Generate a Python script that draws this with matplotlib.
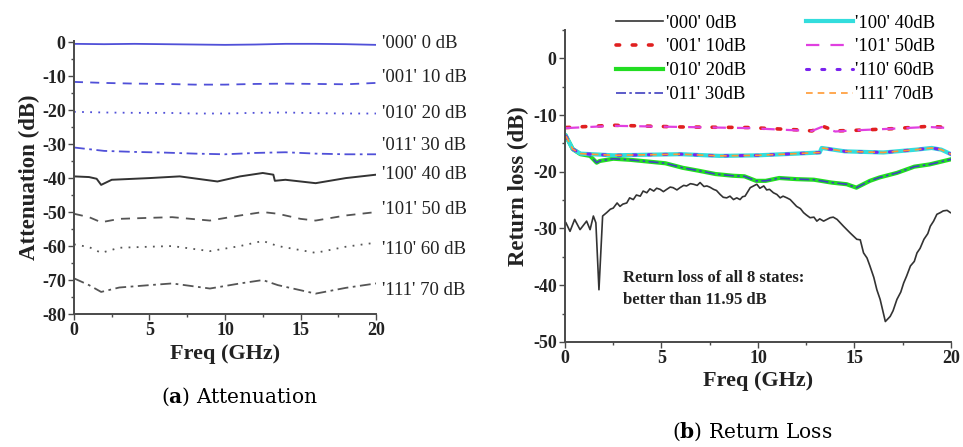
"""Attenuation and return loss of the 3-bit step attenuator (two panels)."""

import matplotlib.pyplot as plt
from matplotlib.ticker import MultipleLocator

plt.rcParams["font.family"] = ["Liberation Serif", "DejaVu Serif"]
plt.rcParams["axes.unicode_minus"] = False
plt.rcParams["mathtext.fontset"] = "custom"
plt.rcParams["mathtext.bf"] = "DejaVu Serif:bold"
plt.rcParams["mathtext.rm"] = "DejaVu Serif"

# ---- (a) attenuation ----
att_freq_flat = [0, 2, 4, 6, 8, 10, 12, 14, 16, 18, 20]
att_000 = [-0.5, -0.6, -0.5, -0.6, -0.7, -0.8, -0.7, -0.5, -0.5, -0.6, -0.8]
att_001 = [-11.7, -12.0, -12.2, -12.3, -12.5, -12.5, -12.3, -12.2, -12.3, -12.4, -12.0]
att_010 = [-20.5, -20.7, -20.8, -20.8, -21.0, -21.0, -20.8, -20.7, -20.9, -21.0, -21.0]
att_011 = [-31.0, -32.0, -32.3, -32.5, -32.8, -33.0, -32.6, -32.4, -32.8, -33.0, -33.0]

att_freq_100 = [0, 1.0, 1.5, 1.8, 2.5, 5, 7, 9.5, 11, 12.5, 13.2, 13.3, 14, 16, 18, 20]
att_100 = [-39.5, -39.7, -40.2, -42.0, -40.5, -40.0, -39.5, -41.0, -39.5, -38.5,
           -39.0, -40.8, -40.5, -41.5, -40.0, -39.0]

att_freq_var = [0, 1.0, 1.8, 3, 5, 6.5, 9, 11, 12.5, 13.5, 15, 16, 18, 20]
att_101 = [-50.5, -51.5, -53.0, -52.0, -51.7, -51.5, -52.5, -51.0, -50.0, -50.5,
           -52.0, -52.5, -51.0, -50.0]
att_110 = [-59.5, -60.3, -62.0, -60.5, -60.2, -60.0, -61.5, -60.0, -58.5, -60.0,
           -61.2, -62.0, -60.2, -59.0]
att_111 = [-69.5, -71.5, -73.5, -72.2, -71.5, -71.0, -72.5, -71.0, -70.0, -71.5,
           -73.0, -74.0, -72.3, -71.0]

att_labels = ["'000' 0 dB", "'001' 10 dB", "'010' 20 dB", "'011' 30 dB",
              "'100' 40 dB", "'101' 50 dB", "'110' 60 dB", "'111' 70 dB"]
att_label_y = [-0.4, -10.4, -21.0, -30.4, -38.9, -49.2, -60.9, -73.2]

# ---- (b) return loss ----
rl_freq_000 = [0.05, 0.26, 0.5, 0.78, 1.12, 1.3, 1.47, 1.6, 1.76, 1.95, 2.16, 2.35,
               2.5, 2.7, 2.85, 3.0, 3.2, 3.35, 3.54, 3.7, 3.9, 4.05, 4.24, 4.4,
               4.6, 4.75, 4.93, 5.1, 5.27, 5.45, 5.6, 5.8, 5.96, 6.15, 6.3, 6.5,
               6.66, 6.85, 7.0, 7.2, 7.35, 7.5, 7.7, 7.85, 8.04, 8.2, 8.38, 8.55,
               8.73, 8.9, 9.07, 9.2, 9.33, 9.6, 9.94, 10.1, 10.3, 10.45, 10.6, 10.8,
               10.98, 11.15, 11.3, 11.5, 11.67, 12.0, 12.2, 12.36, 12.5, 12.7, 12.9,
               13.05, 13.2, 13.4, 13.74, 13.9, 14.1, 14.43, 14.78, 15.12, 15.3,
               15.47, 15.65, 15.8, 16.0, 16.16, 16.33, 16.6, 16.85, 17.0, 17.2,
               17.4, 17.55, 17.7, 17.9, 18.1, 18.24, 18.4, 18.6, 18.8, 18.93, 19.1,
               19.27, 19.45, 19.6, 19.8, 19.97]
rl_000 = [-29.0, -30.5, -28.4, -30.2, -28.7, -30.2, -27.8, -29.0, -40.8, -27.8,
          -27.2, -26.6, -26.4, -25.5, -26.1, -25.7, -25.5, -24.6, -24.9, -24.1,
          -24.3, -23.4, -23.7, -23.0, -23.4, -22.9, -23.1, -23.5, -23.1, -22.7,
          -22.8, -23.2, -22.8, -22.4, -22.5, -22.1, -22.2, -22.4, -21.9, -22.6,
          -22.5, -22.7, -23.1, -23.3, -24.0, -24.5, -24.6, -24.3, -24.9, -24.6,
          -24.9, -24.4, -24.3, -22.8, -22.2, -22.9, -22.5, -23.2, -23.1, -23.7,
          -24.0, -24.6, -24.3, -24.6, -24.9, -26.1, -26.5, -27.2, -27.6, -28.1,
          -28.0, -28.7, -28.3, -28.7, -28.1, -28.0, -28.4, -29.6, -30.8, -31.9,
          -32.0, -34.3, -35.2, -36.6, -38.6, -40.8, -42.5, -46.4, -45.5, -44.5,
          -42.5, -41.2, -39.6, -38.4, -36.6, -35.8, -34.3, -33.5, -31.9, -30.9,
          -29.6, -28.7, -27.5, -27.2, -26.9, -26.8, -27.2]

rl_freq_hi = [0.05, 2.5, 6, 9.5, 12, 12.8, 13.3, 14, 15, 17, 18.8, 20]
rl_001 = [-12.2, -11.8, -12.1, -12.2, -12.6, -12.8, -11.9, -12.8, -12.7, -12.4, -12.0, -12.2]
rl_101 = [-12.3, -11.9, -12.1, -12.3, -12.7, -12.8, -12.1, -12.9, -12.7, -12.4, -12.1, -12.3]

rl_freq_mid = [0.05, 0.4, 0.8, 2.5, 6, 8, 10, 12, 13.2, 13.3, 14.5, 16.5, 18.2,
               19.0, 19.5, 20]
rl_100 = [-13.7, -16.0, -16.8, -17.1, -16.9, -17.2, -17.1, -16.8, -16.6, -15.8,
          -16.4, -16.6, -16.1, -15.8, -16.1, -16.9]
rl_110 = rl_100
rl_111 = rl_100

rl_freq_low = [0.05, 0.4, 0.8, 1.3, 1.64, 1.8, 2.5, 3.4, 4.3, 5.2, 6.1, 6.9, 7.8,
               8.7, 9.3, 9.9, 10.4, 11.1, 12.0, 12.9, 13.8, 14.6, 15.1, 15.8, 16.3,
               17.2, 18.1, 18.9, 20]
rl_010 = [-13.7, -16.0, -16.9, -17.2, -18.4, -18.1, -17.7, -17.9, -18.2, -18.5,
          -19.3, -19.8, -20.4, -20.7, -20.8, -21.6, -21.6, -21.1, -21.3, -21.4,
          -21.9, -22.2, -22.8, -21.6, -21.0, -20.2, -19.1, -18.7, -17.8]
rl_011 = rl_010

rl_labels = ["'000' 0dB", "'001' 10dB", "'010' 20dB", "'011' 30dB",
             "'100' 40dB", "'101' 50dB", "'110' 60dB", "'111' 70dB"]

AX_COLOR = "#4a4a4a"
TXT = "#222222"
BLUE = "#5050d8"
GRAY = "#555555"

fig = plt.figure(figsize=(9.63, 4.47), dpi=100)
ax1 = fig.add_axes([0.0768, 0.2975, 0.3137, 0.6105])
ax2 = fig.add_axes([0.5867, 0.2350, 0.4008, 0.6980])


def style_axes(ax):
    for side in ("top", "right"):
        ax.spines[side].set_visible(False)
    for side in ("left", "bottom"):
        ax.spines[side].set_color(AX_COLOR)
        ax.spines[side].set_linewidth(1.4)
    ax.tick_params(which="both", direction="out", colors=AX_COLOR, width=1.0)
    ax.tick_params(which="major", length=4, labelsize=13, labelcolor=TXT, pad=2)
    ax.tick_params(which="minor", length=2.5)
    for lab in ax.get_xticklabels() + ax.get_yticklabels():
        lab.set_fontweight("bold")
    ax.xaxis.set_major_locator(MultipleLocator(5))
    ax.xaxis.set_minor_locator(MultipleLocator(2.5))
    ax.yaxis.set_major_locator(MultipleLocator(10))
    ax.yaxis.set_minor_locator(MultipleLocator(5))


# (a)
ax1.plot(att_freq_flat, att_000, color=BLUE, lw=1.3, ls="-")
ax1.plot(att_freq_flat, att_001, color=BLUE, lw=1.3, ls=(0, (5, 4)))
ax1.plot(att_freq_flat, att_010, color=BLUE, lw=1.3, ls=(0, (1, 3.5)))
ax1.plot(att_freq_flat, att_011, color=BLUE, lw=1.3, ls=(0, (6, 2.5, 1.5, 2.5)))
ax1.plot(att_freq_100, att_100, color="#333333", lw=1.4, ls="-")
ax1.plot(att_freq_var, att_101, color=GRAY, lw=1.3, ls=(0, (5, 4)))
ax1.plot(att_freq_var, att_110, color=GRAY, lw=1.3, ls=(0, (1, 3.5)))
ax1.plot(att_freq_var, att_111, color=GRAY, lw=1.3, ls=(0, (6, 2.5, 1.5, 2.5)))
ax1.set_xlim(0, 20)
ax1.set_ylim(-80, 0.3)
style_axes(ax1)
for lab, yv in zip(att_labels, att_label_y):
    ax1.text(20.4, yv, lab, fontsize=13.5, color=TXT, va="center", ha="left",
             clip_on=False)
ax1.set_xlabel("Freq (GHz)", fontsize=16, fontweight="bold", color=TXT, labelpad=3)
ax1.set_ylabel("Attenuation (dB)", fontsize=16.5, fontweight="bold", color=TXT, labelpad=1)

# (b)
l0, = ax2.plot(rl_freq_000, rl_000, color="#333333", lw=1.2, ls="-")
l1, = ax2.plot(rl_freq_hi, rl_001, color="#e02020", lw=2.6, ls=(0, (1, 3.5)),
               dash_capstyle="round")
l5, = ax2.plot(rl_freq_hi, rl_101, color="#e040e0", lw=1.6, ls=(0, (6, 5)))
l2, = ax2.plot(rl_freq_low, rl_010, color="#22dd22", lw=3.0, ls="-")
l3, = ax2.plot(rl_freq_low, rl_011, color="#4040c0", lw=1.2, ls=(0, (6, 2, 1.5, 2)))
l4, = ax2.plot(rl_freq_mid, rl_100, color="#33dddd", lw=3.0, ls="-")
l6, = ax2.plot(rl_freq_mid, rl_110, color="#7a22ee", lw=2.2, ls=(0, (1, 4)),
               dash_capstyle="round")
l7, = ax2.plot(rl_freq_mid, rl_111, color="#ff9933", lw=1.2, ls=(0, (4, 3)))
ax2.set_xlim(0, 20)
ax2.set_ylim(-50, 5)
style_axes(ax2)
ax2.set_xlabel("Freq (GHz)", fontsize=16, fontweight="bold", color=TXT, labelpad=3)
ax2.set_ylabel("Return loss (dB)", fontsize=16.5, fontweight="bold", color=TXT, labelpad=3)
ax2.text(3.0, -40.7, "Return loss of all 8 states:\nbetter than 11.95 dB", fontsize=12,
         fontweight="bold", color=TXT, va="center", ha="left", linespacing=1.55)

fig.legend([l0, l1, l2, l3, l4, l5, l6, l7], rl_labels, ncol=2, frameon=False,
           loc="upper left", bbox_to_anchor=(0.626, 0.997), fontsize=13.5,
           handlelength=2.5, handletextpad=0.15, columnspacing=3.2,
           labelspacing=0.36, borderpad=0.2)

# captions
fig.text(0.249, 0.112, r"($\mathbf{a}$) Attenuation", ha="center", va="center",
         fontsize=14.5, family="DejaVu Serif")
fig.text(0.781, 0.033, r"($\mathbf{b}$) Return Loss", ha="center", va="center",
         fontsize=14.5, family="DejaVu Serif")

fig.savefig("out.png", dpi=100)
